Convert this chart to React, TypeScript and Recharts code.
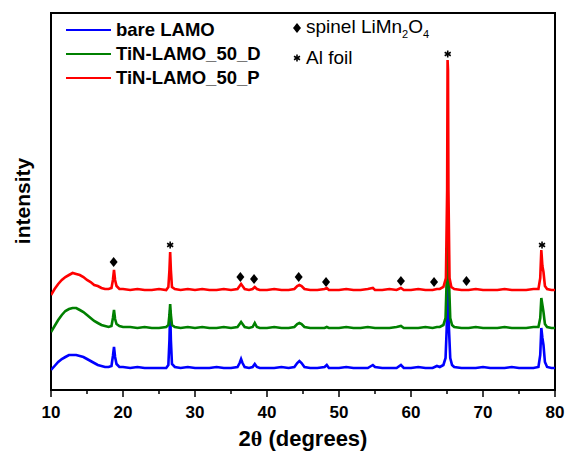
import React from "react"
import { ComposedChart, Line, Scatter, XAxis, YAxis, ReferenceArea, Legend } from "recharts"

// 2-theta (deg) / intensity (a.u., offset traces)
const bareLAMO: [number, number][] = [
  [10, 20], [10.5, 24], [11, 28], [11.5, 31], [12, 33], [12.5, 35], [13, 35], [13.5, 35], [14, 34], [14.5, 33],
  [15, 31], [15.5, 29], [16, 27], [16.5, 25], [17, 24], [17.5, 23], [18, 23], [18.4, 24], [18.6, 34], [18.75, 43],
  [18.9, 33], [19.1, 26], [19.5, 23], [20, 23], [21, 22], [22, 23], [23, 22], [24, 22], [25, 22], [26, 22],
  [26.3, 25], [26.45, 50], [26.55, 80], [26.65, 50], [26.8, 26], [27.2, 23], [28, 22], [29, 23], [30, 22], [31, 22],
  [32, 22], [33, 23], [34, 22], [35, 22], [35.9, 23], [36.2, 27], [36.4, 31], [36.6, 27], [36.9, 23], [37.5, 22],
  [38, 23], [38.3, 26], [38.6, 23], [39, 22], [40, 22], [41, 22], [42, 23], [43, 22], [43.8, 23], [44.2, 27],
  [44.5, 29], [44.8, 27], [45.2, 23], [46, 22], [47, 22], [48, 23], [48.3, 25], [48.6, 22], [50, 22], [51, 23],
  [52, 22], [53, 22], [54, 22], [54.7, 25], [55, 23], [56, 22], [57, 22], [58, 22], [58.6, 25], [59, 22],
  [60, 22], [61, 23], [62, 22], [63, 22], [63.6, 24], [64, 23], [64.5, 25], [64.8, 32], [64.95, 60], [65.1, 110],
  [65.25, 65], [65.45, 32], [65.7, 25], [66, 23], [67, 22], [68, 22], [69, 22], [70, 23], [71, 22], [72, 22],
  [73, 22], [74, 23], [75, 22], [76, 22], [77, 22], [77.7, 23], [77.95, 35], [78.1, 62], [78.25, 52], [78.4, 45],
  [78.6, 28], [78.9, 23], [79.5, 22], [80, 22],
]

const tinLAMO50D: [number, number][] = [
  [10, 58], [10.5, 64], [11, 70], [11.5, 75], [12, 79], [12.5, 81], [13, 82], [13.5, 82], [14, 80], [14.5, 78],
  [15, 75], [15.5, 72], [16, 69], [16.5, 67], [17, 65], [17.5, 64], [18, 63], [18.4, 64], [18.6, 72], [18.75, 80],
  [18.9, 71], [19.1, 66], [19.5, 64], [20, 63], [21, 63], [22, 62], [23, 63], [24, 62], [25, 62], [26, 63],
  [26.3, 65], [26.45, 75], [26.55, 86], [26.65, 75], [26.8, 65], [27.2, 63], [28, 62], [29, 63], [30, 62], [31, 63],
  [32, 62], [33, 62], [34, 63], [35, 62], [35.9, 63], [36.2, 66], [36.4, 68], [36.6, 66], [36.9, 63], [37.5, 62],
  [38, 63], [38.3, 67], [38.6, 63], [39, 62], [40, 62], [41, 63], [42, 62], [43, 62], [43.8, 63], [44.2, 66],
  [44.5, 67], [44.8, 66], [45.2, 63], [46, 62], [47, 62], [48, 62], [48.3, 63], [48.6, 62], [50, 62], [51, 63],
  [52, 62], [53, 62], [54, 63], [55, 62], [56, 62], [57, 62], [58, 63], [58.6, 64], [59, 62], [60, 62],
  [61, 62], [62, 63], [63, 62], [63.6, 63], [64, 63], [64.5, 65], [64.8, 72], [64.95, 110], [65.1, 160], [65.25, 115],
  [65.45, 72], [65.7, 65], [66, 63], [67, 62], [68, 62], [69, 63], [70, 62], [71, 62], [72, 62], [73, 63],
  [74, 62], [75, 62], [76, 62], [77, 63], [77.7, 63], [77.95, 72], [78.1, 92], [78.25, 85], [78.4, 78], [78.6, 66],
  [78.9, 63], [79.5, 62], [80, 62],
]

const tinLAMO50P: [number, number][] = [
  [10, 95], [10.5, 101], [11, 106], [11.5, 110], [12, 113], [12.5, 115], [13, 117], [13.5, 116], [14, 115], [14.5, 113],
  [15, 110], [15.5, 108], [16, 105], [16.5, 104], [17, 102], [17.5, 101], [18, 101], [18.4, 102], [18.6, 110], [18.75, 120],
  [18.9, 110], [19.1, 104], [19.5, 101], [20, 101], [21, 100], [22, 101], [23, 100], [24, 100], [25, 101], [26, 100],
  [26.3, 103], [26.45, 120], [26.55, 138], [26.65, 120], [26.8, 103], [27.2, 101], [28, 100], [29, 101], [30, 100], [31, 101],
  [32, 100], [33, 100], [34, 101], [35, 100], [35.9, 101], [36.2, 104], [36.4, 106], [36.6, 104], [36.9, 101], [37.5, 100],
  [38, 101], [38.3, 103], [38.6, 101], [39, 100], [40, 100], [41, 101], [42, 100], [43, 100], [43.8, 101], [44.2, 104],
  [44.5, 105], [44.8, 104], [45.2, 101], [46, 100], [47, 100], [48, 101], [48.3, 102], [48.6, 100], [50, 100], [51, 101],
  [52, 100], [53, 100], [54, 101], [54.7, 102], [55, 100], [56, 100], [57, 101], [58, 100], [58.6, 102], [59, 100],
  [60, 100], [61, 101], [62, 100], [63, 100], [63.6, 101], [64, 101], [64.5, 103], [64.85, 112], [65.02, 200], [65.08, 330],
  [65.14, 320], [65.2, 200], [65.35, 112], [65.6, 103], [66, 101], [67, 100], [68, 100], [69, 101], [70, 100], [71, 100],
  [72, 100], [73, 101], [74, 100], [75, 100], [76, 100], [77, 101], [77.7, 101], [77.95, 112], [78.1, 140], [78.25, 124],
  [78.4, 118], [78.6, 104], [78.9, 101], [79.5, 100], [80, 100],
]

// peak markers
const spinelX = [18.7, 36.3, 38.2, 44.4, 48.2, 58.6, 63.2, 67.7]
const spinelY = [128, 113, 111, 113, 108, 109, 108, 109]
const alFoilX = [26.55, 65.1, 78.2]
const alFoilY = [145, 336, 145]

const xTicks = [10, 15, 20, 25, 30, 35, 40, 45, 50, 55, 60, 65, 70, 75, 80]
const xLabels = [10, 20, 30, 40, 50, 60, 70, 80]

const series = [
  { name: "bare LAMO", color: "#0000FF", data: bareLAMO },
  { name: "TiN-LAMO_50_D", color: "#008000", data: tinLAMO50D },
  { name: "TiN-LAMO_50_P", color: "#FF0000", data: tinLAMO50P },
]

const toPoints = (arr: [number, number][]) => arr.map(([x, y]) => ({ x, y }))
const spinelMarks = spinelX.map((x, i) => ({ x, y: spinelY[i] }))
const alFoilMarks = alFoilX.map((x, i) => ({ x, y: alFoilY[i] }))

const FONT = '"Liberation Sans", Arial, sans-serif'

function Diamond({ cx, cy }: any) {
  return <path d={`M${cx},${cy - 5}L${cx + 4},${cy}L${cx},${cy + 5}L${cx - 4},${cy}Z`} fill="#000" />
}

function Star({ cx, cy }: any) {
  const r = 3.5
  const dx = r * 0.866
  const dy = r * 0.5
  return (
    <g stroke="#000" strokeWidth={1.6}>
      <line x1={cx} y1={cy - r} x2={cx} y2={cy + r} />
      <line x1={cx - dx} y1={cy - dy} x2={cx + dx} y2={cy + dy} />
      <line x1={cx - dx} y1={cy + dy} x2={cx + dx} y2={cy - dy} />
    </g>
  )
}

function XTick(props: any) {
  const { x, y, payload } = props
  const major = xLabels.includes(payload.value)
  return (
    <g>
      <line x1={x} y1={y} x2={x} y2={y + (major ? 7 : 4)} stroke="#000" strokeWidth={1.5} />
      {major && (
        <text x={x} y={y + 28} textAnchor="middle" fontFamily={FONT} fontWeight="bold" fontSize={17} fill="#000">
          {payload.value}
        </text>
      )}
    </g>
  )
}

function XTitle(props: any) {
  const { viewBox } = props
  return (
    <text x={viewBox.x + viewBox.width / 2} y={viewBox.y + 56} textAnchor="middle" fontFamily={FONT} fontWeight="bold" fontSize={22} fill="#000">
      2<tspan fontFamily='"Liberation Serif", serif'>θ</tspan> (degrees)
    </text>
  )
}

function YTitle() {
  return (
    <text x={22} y={201} transform="rotate(-90, 22, 201)" textAnchor="middle" dominantBaseline="central" fontFamily={FONT} fontWeight="bold" fontSize={21} fill="#000">
      intensity
    </text>
  )
}

function LegendBox() {
  const rowY = [30, 54, 78]
  return (
    <div style={{ position: "relative", width: 565, height: 95, fontFamily: FONT, color: "#000" }}>
      {series.map((s, i) => (
        <div key={s.name} style={{ position: "absolute", left: 66, top: rowY[i] - 12, height: 24, display: "flex", alignItems: "center" }}>
          <div style={{ width: 45, height: 2, background: s.color, marginRight: 5 }} />
          <span style={{ fontWeight: "bold", fontSize: 18.5 }}>{s.name}</span>
        </div>
      ))}
      <div style={{ position: "absolute", left: 292, top: 16, height: 24, display: "flex", alignItems: "center", fontSize: 19 }}>
        <svg width={10} height={12} style={{ marginRight: 4 }}><path d="M5,1L9,6L5,11L1,6Z" fill="#000" /></svg>
        <span>spinel LiMn<sub style={{ fontSize: 11 }}>2</sub>O<sub style={{ fontSize: 11 }}>4</sub></span>
      </div>
      <div style={{ position: "absolute", left: 292, top: 46, height: 24, display: "flex", alignItems: "center", fontSize: 19 }}>
        <svg width={10} height={12} style={{ marginRight: 4 }}>
          <g stroke="#000" strokeWidth={1.6}>
            <line x1={5} y1={2.5} x2={5} y2={9.5} />
            <line x1={2} y1={4.25} x2={8} y2={7.75} />
            <line x1={2} y1={7.75} x2={8} y2={4.25} />
          </g>
        </svg>
        <span>Al foil</span>
      </div>
    </div>
  )
}

export default function App() {
  return (
    <div style={{ position: "absolute", left: 0, top: 0, background: "#fff" }}>
      <ComposedChart width={565} height={455} margin={{ top: 13, right: 10, bottom: 0, left: 0 }}>
        <XAxis
          type="number"
          dataKey="x"
          domain={[10, 80]}
          ticks={xTicks}
          interval={0}
          allowDataOverflow
          tickLine={false}
          tickSize={0}
          tickMargin={0}
          axisLine={{ stroke: "#000", strokeWidth: 2 }}
          height={65}
          tick={<XTick />}
          label={<XTitle />}
        />
        <YAxis type="number" dataKey="y" domain={[0, 377]} allowDataOverflow width={51} tick={false} tickLine={false} axisLine={false} label={<YTitle />} />
        <ReferenceArea x1={10} x2={80} y1={0} y2={377} fill="none" stroke="#000" strokeWidth={2} ifOverflow="visible" />
        {series.map((s) => (
          <Line
            key={s.name}
            data={toPoints(s.data)}
            dataKey="y"
            name={s.name}
            type="linear"
            stroke={s.color}
            strokeWidth={2.6}
            dot={false}
            activeDot={false}
            isAnimationActive={false}
          />
        ))}
        <Scatter data={spinelMarks} dataKey="y" shape={<Diamond />} legendType="none" isAnimationActive={false} />
        <Scatter data={alFoilMarks} dataKey="y" shape={<Star />} legendType="none" isAnimationActive={false} />
        <Legend layout="vertical" align="center" verticalAlign="middle" wrapperStyle={{ left: 0, top: 0, width: 565 }} content={<LegendBox />} />
      </ComposedChart>
    </div>
  )
}
